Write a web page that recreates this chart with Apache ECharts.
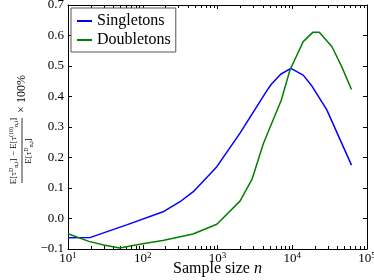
<!DOCTYPE html>
<html><head><meta charset="utf-8">
<script src="https://cdn.jsdelivr.net/npm/echarts@6/dist/echarts.min.js"></script>
<style>html,body{margin:0;padding:0;background:#fff}#c{width:374px;height:280px}</style>
</head><body><div id="c"></div>
<script>
const singletonN = [10,20,61,187,315,475,980,2000,4600,5250,7000,9600,14000,18000,29000,62000];
const singletonV = [-0.063,-0.062,-0.021,0.022,0.055,0.088,0.17,0.28,0.42,0.44,0.473,0.492,0.47,0.437,0.356,0.175];
const doubletonN = [10,19,30,49,100,185,470,980,2000,2900,4100,7100,9300,14000,19000,23000,34000,46000,62000];
const doubletonV = [-0.05,-0.075,-0.087,-0.097,-0.083,-0.072,-0.051,-0.019,0.057,0.129,0.245,0.387,0.486,0.58,0.611,0.611,0.563,0.497,0.423];
const xMinorTicks = [];
for (let d = 10; d < 100000; d *= 10) for (let k = 2; k <= 9; k++) xMinorTicks.push(k*d);
const yMin = -0.1, yMax = 0.7;

const FONT = '"Liberation Serif", "DejaVu Serif", serif';
const chart = echarts.init(document.getElementById('c'), null, {renderer:'canvas'});
const pair = (a,b) => a.map((n,i)=>[n,b[i]]);
const axisCommon = {
  axisLine:{onZero:false,lineStyle:{color:'#000',width:1}},
  splitLine:{show:false}
};
const minorSeries = (yv, dir) => ({
  type:'custom', silent:true, z:1,
  data:xMinorTicks.map(v=>[v,yv]), encode:{x:0,y:1},
  renderItem:(p,api)=>{
    const c = api.coord([api.value(0),api.value(1)]);
    return {type:'rect',shape:{x:Math.round(c[0]),y:dir<0?c[1]-3:c[1],width:1,height:3},style:{fill:'#000'}};
  }
});
const richTau = {n:{fontFamily:FONT,fontSize:9,fill:'#000'},
  s:{fontFamily:FONT,fontSize:6,fill:'#000',verticalAlign:'bottom',padding:[0,0,6,0]},
  u:{fontFamily:FONT,fontSize:6,fill:'#000',verticalAlign:'top',padding:[5,0,0,0]}};
chart.setOption({
  animation:false,
  backgroundColor:'#fff',
  grid:{left:68,right:7,top:5,bottom:31,outerBoundsMode:'none',containLabel:false},
  legend:{
    left:71, top:8, orient:'vertical',
    data:['Singletons','Doubletons'],
    icon:'rect', itemWidth:15, itemHeight:2, itemGap:3,
    padding:[5,5,4,6],
    borderColor:'#555', borderWidth:1, backgroundColor:'#fff',
    textStyle:{fontFamily:FONT,fontSize:16,color:'#000'}
  },
  xAxis:[{
    type:'log', logBase:10, min:10, max:100000, position:'bottom',
    ...axisCommon,
    axisTick:{inside:true,length:4,lineStyle:{color:'#000'}},
    axisLabel:{margin:2,formatter:v=>'{b|10}{s|'+Math.round(Math.log10(v))+'}',
      rich:{b:{fontFamily:FONT,fontSize:13,color:'#000'},s:{fontFamily:FONT,fontSize:9,color:'#000',verticalAlign:'bottom',padding:[0,0,7,0]}}},
    name:'{t|Sample size }{i|n}', nameLocation:'middle', nameGap:12, nameMoveOverlap:false,
    nameTextStyle:{verticalAlign:'top',rich:{t:{fontFamily:FONT,fontSize:16,color:'#000'},i:{fontFamily:FONT,fontSize:16,fontStyle:'italic',color:'#000'}}}
  },{
    type:'log', logBase:10, min:10, max:100000, position:'top',
    ...axisCommon,
    axisTick:{inside:true,length:4,lineStyle:{color:'#000'}},
    axisLabel:{show:false}
  }],
  yAxis:[{
    type:'value', min:yMin, max:yMax, interval:0.1, position:'left',
    ...axisCommon,
    axisTick:{inside:true,length:4,lineStyle:{color:'#000'}},
    axisLabel:{margin:4,fontFamily:FONT,fontSize:13,color:'#000',
      formatter:v=>(v<-1e-9?'\u2212':'')+Math.abs(v).toFixed(1)}
  },{
    type:'value', min:yMin, max:yMax, interval:0.1, position:'right',
    ...axisCommon,
    axisTick:{inside:true,length:4,lineStyle:{color:'#000'}},
    axisLabel:{show:false}
  }],
  series:[
    {name:'Singletons',type:'line',data:pair(singletonN,singletonV),showSymbol:false,
      lineStyle:{color:'#0000ff',width:1.5},itemStyle:{color:'#0000ff'},z:3},
    {name:'Doubletons',type:'line',data:pair(doubletonN,doubletonV),showSymbol:false,
      lineStyle:{color:'#008000',width:1.5},itemStyle:{color:'#008000'},z:3},
    minorSeries(yMin,-1),
    minorSeries(yMax,1)
  ],
  graphic:[{
    type:'group', x:22, y:127, rotation:Math.PI/2,
    children:[
      {type:'text', x:-24, y:-8, style:{
        text:'{n|E[τ}{s|D}{u|n,i}{n|] − E[τ}{s|(10)}{u|n,i}{n|]}',
        align:'center', verticalAlign:'middle', rich:richTau}},
      {type:'line', shape:{x1:-56,y1:0,x2:9,y2:0}, style:{stroke:'#000',lineWidth:0.8}},
      {type:'text', x:-24, y:7, style:{
        text:'{n|E[τ}{s|D}{u|n,i}{n|]}',
        align:'center', verticalAlign:'middle', rich:richTau}},
      {type:'text', x:33, y:0, style:{
        text:'× 100%', align:'center', verticalAlign:'middle',
        fontFamily:FONT, fontSize:12, fill:'#000'}}
    ]
  }]
});
</script></body></html>
